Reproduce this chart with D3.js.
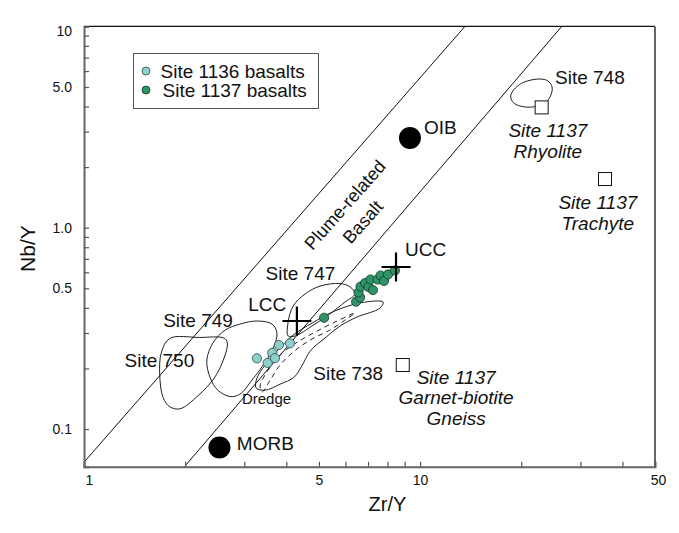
<!DOCTYPE html>
<html><head><meta charset="utf-8">
<script src="https://cdn.jsdelivr.net/npm/d3@7"></script>
<style>
body{margin:0;background:#fff}
svg{display:block;font-family:Arial,"Liberation Sans",Helvetica,sans-serif}
</style>
</head><body>
<svg id="chart" width="679" height="533"></svg>
<script>
// ---------- data ----------
const xTickValues = [1, 5, 10, 50];
const xTickLabels = ["1", "5", "10", "50"];
const xMinorTicks = [2, 3, 4, 6, 7, 8, 9, 20, 30, 40];
const yTickValues = [0.1, 0.5, 1, 5, 10];
const yTickLabels = ["0.1", "0.5", "1.0", "5.0", "10"];
const yMinorTicks = [0.2, 0.3, 0.4, 0.6, 0.7, 0.8, 0.9, 2, 3, 4, 6, 7, 8, 9];

const site1136ZrY = [3.27, 3.63, 3.52, 3.70, 3.80, 4.10];
const site1136NbY = [0.2245, 0.239, 0.213, 0.225, 0.2615, 0.2665];
const site1137ZrY = [5.18, 6.45, 6.63, 6.56, 6.65, 6.86, 7.02, 7.12, 7.24, 7.47, 7.63, 7.81, 8.03, 8.42];
const site1137NbY = [0.357, 0.429, 0.450, 0.477, 0.510, 0.531, 0.508, 0.553, 0.490, 0.553, 0.579, 0.544, 0.586, 0.613];

const mantleNames = ["OIB", "MORB"];
const mantleZrY = [9.33, 2.53];
const mantleNbY = [2.79, 0.081];

const crustNames = ["UCC", "LCC"];
const crustZrY = [8.48, 4.30];
const crustNbY = [0.638, 0.344];

const rockNames = ["Rhyolite", "Trachyte", "Garnet-biotite Gneiss"];
const rockZrY = [23.0, 35.5, 8.88];
const rockNbY = [3.96, 1.745, 0.208];

// field outlines (Zr/Y, Nb/Y)
const site750ZrY = [1.80, 2.21, 2.61, 2.67, 2.61, 2.44, 2.18, 1.93, 1.80, 1.72, 1.68, 1.70];
const site750NbY = [0.282, 0.285, 0.283, 0.268, 0.225, 0.179, 0.146, 0.126, 0.129, 0.143, 0.186, 0.241];
const site749ZrY = [3.27, 2.91, 2.63, 2.42, 2.32, 2.37, 2.50, 2.72, 2.91, 3.16, 3.46, 3.68, 3.75, 3.63];
const site749NbY = [0.344, 0.332, 0.310, 0.268, 0.220, 0.181, 0.156, 0.145, 0.149, 0.175, 0.215, 0.259, 0.300, 0.332];
const site747ZrY = [5.78, 6.19, 6.40, 5.98, 5.39, 4.77, 4.25, 4.05, 4.05, 4.19, 4.55, 5.04];
const site747NbY = [0.528, 0.508, 0.469, 0.428, 0.373, 0.325, 0.290, 0.290, 0.340, 0.408, 0.469, 0.513];
const site738ZrY = [7.76, 7.60, 6.49, 5.78, 5.25, 4.71, 4.45, 4.22, 3.83, 3.46, 3.25, 3.27, 3.46, 3.78, 4.16, 4.77, 5.58, 6.63];
const site738NbY = [0.4275, 0.399, 0.360, 0.325, 0.286, 0.244, 0.206, 0.181, 0.167, 0.156, 0.160, 0.179, 0.208, 0.247, 0.290, 0.336, 0.386, 0.423];
const site748ZrY = [22.7, 24.0, 24.7, 24.5, 23.7, 22.4, 20.5, 19.0, 18.6, 19.2, 20.4];
const site748NbY = [5.48, 5.36, 5.00, 4.56, 4.21, 4.02, 3.98, 4.16, 4.51, 4.94, 5.29];
const dredgeZrY = [3.34, 3.53, 3.83, 4.27, 4.87, 5.58, 6.40, 5.98, 5.39, 4.71, 4.19, 3.83, 3.58, 3.39];
const dredgeNbY = [0.1635, 0.196, 0.233, 0.2675, 0.303, 0.340, 0.377, 0.348, 0.310, 0.277, 0.241, 0.208, 0.175, 0.153];

// plume-related basalt boundaries
const plumeUpperZrY = [1, 13.6];
const plumeUpperNbY = [0.0684, 10];
const plumeLowerZrY = [1.99, 26.4];
const plumeLowerNbY = [0.065, 10];

// ---------- layout ----------
const svg = d3.select("#chart");
const padL = 84, padR = 655, padT = 26.4, padB = 466.7;
const x = d3.scaleLog().domain([1, 50]).range([padL, padR]);
const y = d3.scaleLog().domain([0.065, 10]).range([padB, padT]);

const zip = (a, b) => a.map((v, i) => [v, b[i]]);
const defs = svg.append("defs");
defs.append("clipPath").attr("id", "clip").append("rect")
  .attr("x", padL).attr("y", padT).attr("width", padR - padL).attr("height", padB - padT);

const plot = svg.append("g").attr("clip-path", "url(#clip)");

// fields
const shape = d3.line().x(d => x(d[0])).y(d => y(d[1])).curve(d3.curveCatmullRomClosed.alpha(0.5));
const fields = [
  [site750ZrY, site750NbY, null],
  [site749ZrY, site749NbY, null],
  [site747ZrY, site747NbY, null],
  [site738ZrY, site738NbY, null],
  [site748ZrY, site748NbY, null],
  [dredgeZrY, dredgeNbY, "5,4"]
];
fields.forEach(f => {
  plot.append("path").attr("d", shape(zip(f[0], f[1])))
    .attr("fill", "none").attr("stroke", "#222").attr("stroke-width", 1)
    .attr("stroke-dasharray", f[2]);
});

// plume lines
const straight = d3.line().x(d => x(d[0])).y(d => y(d[1]));
[[plumeUpperZrY, plumeUpperNbY], [plumeLowerZrY, plumeLowerNbY]].forEach(l => {
  plot.append("path").attr("d", straight(zip(l[0], l[1])))
    .attr("fill", "none").attr("stroke", "#111").attr("stroke-width", 1);
});

// basalt points
plot.selectAll(".s1136").data(zip(site1136ZrY, site1136NbY)).join("circle")
  .attr("cx", d => x(d[0])).attr("cy", d => y(d[1])).attr("r", 4.6)
  .attr("fill", "#8fd0cb").attr("stroke", "#2a4a48").attr("stroke-width", 0.8);
plot.selectAll(".s1137").data(zip(site1137ZrY, site1137NbY)).join("circle")
  .attr("cx", d => x(d[0])).attr("cy", d => y(d[1])).attr("r", 4.6)
  .attr("fill", "#2f9467").attr("stroke", "#143826").attr("stroke-width", 0.8);

// mantle reference (big black dots)
plot.selectAll(".mantle").data(zip(mantleZrY, mantleNbY)).join("circle")
  .attr("cx", d => x(d[0])).attr("cy", d => y(d[1])).attr("r", 11).attr("fill", "#000");

// crust crosses
zip(crustZrY, crustNbY).forEach(d => {
  const cx = x(d[0]), cy = y(d[1]);
  plot.append("line").attr("x1", cx - 14.5).attr("x2", cx + 14.5).attr("y1", cy).attr("y2", cy)
    .attr("stroke", "#000").attr("stroke-width", 2.2);
  plot.append("line").attr("x1", cx).attr("x2", cx).attr("y1", cy - 14.5).attr("y2", cy + 14.5)
    .attr("stroke", "#000").attr("stroke-width", 2.2);
});

// rock squares
plot.selectAll(".rock").data(zip(rockZrY, rockNbY)).join("rect")
  .attr("x", d => x(d[0]) - 6.5).attr("y", d => y(d[1]) - 6.5)
  .attr("width", 13).attr("height", 13)
  .attr("fill", "#fff").attr("stroke", "#111").attr("stroke-width", 1);

// ---------- frame & axes ----------
svg.append("line").attr("x1", padL).attr("x2", padR).attr("y1", padT).attr("y2", padT)
  .attr("stroke", "#111").attr("stroke-width", 1.2);
svg.append("line").attr("x1", padR).attr("x2", padR).attr("y1", padT).attr("y2", padB)
  .attr("stroke", "#666").attr("stroke-width", 2);

const xAxis = d3.axisBottom(x).tickValues(xTickValues.concat(xMinorTicks))
  .tickSize(-5).tickFormat(d => { const i = xTickValues.indexOf(d); return i >= 0 ? xTickLabels[i] : ""; });
const gx = svg.append("g").attr("transform", `translate(0,${padB})`).call(xAxis);
gx.select(".domain").attr("stroke", "#666").attr("stroke-width", 2);
gx.selectAll(".tick line").attr("stroke", "#555").attr("stroke-width", 1.2);
gx.selectAll(".tick text").attr("font-size", 14).attr("fill", "#111").attr("y", 8)
  .attr("dx", d => d === 1 ? 5 : (d === 50 ? 3 : 0))
  .attr("font-family", "Arial, 'Liberation Sans', sans-serif");

const yAxis = d3.axisLeft(y).tickValues(yTickValues.concat(yMinorTicks))
  .tickSize(-5).tickFormat(d => { const i = yTickValues.indexOf(d); return i >= 0 ? yTickLabels[i] : ""; });
const gy = svg.append("g").attr("transform", `translate(${padL},0)`).call(yAxis);
gy.select(".domain").attr("stroke", "#666").attr("stroke-width", 2);
gy.selectAll(".tick line").attr("stroke", "#555").attr("stroke-width", 1.2);
gy.selectAll(".tick text").attr("font-size", 14).attr("fill", "#111").attr("x", -12)
  .attr("dy", d => d === 10 ? "0.62em" : "0.32em")
  .attr("font-family", "Arial, 'Liberation Sans', sans-serif");

svg.append("text").attr("x", (padL + padR) / 2 + 18).attr("y", 511)
  .attr("text-anchor", "middle").attr("font-size", 20).attr("fill", "#111").text("Zr/Y");
svg.append("text").attr("transform", `translate(35,${(padT + padB) / 2 + 2}) rotate(-90)`)
  .attr("text-anchor", "middle").attr("font-size", 21).attr("fill", "#111").text("Nb/Y");

// ---------- annotations ----------
const fs = 19;
function label(zr, nb, txt, anchor, opts = {}) {
  const t = svg.append("text").attr("x", x(zr)).attr("y", y(nb))
    .attr("text-anchor", anchor).attr("dominant-baseline", "central")
    .attr("font-size", opts.size || fs).attr("fill", "#111");
  if (opts.italic) t.attr("font-style", "italic");
  const lines = Array.isArray(txt) ? txt : [txt];
  lines.forEach((s, i) => t.append("tspan").attr("x", x(zr)).attr("dy", i === 0 ? 0 : (opts.lh || 21.5)).text(s));
  return t;
}
label(25.2, 5.59, "Site 748", "start");
label(10.27, 3.16, "OIB", "start");
label(9.02, 0.784, "UCC", "start");
label(2.85, 0.0852, "MORB", "start");
label(3.08, 0.418, "LCC", "start");
label(3.47, 0.596, "Site 747", "start");
label(1.72, 0.348, "Site 749", "start");
label(1.32, 0.2203, "Site 750", "start");
label(7.76, 0.1905, "Site 738", "end");
label(2.95, 0.1421, "Dredge", "start", { size: 15 });
label(24.0, 3.06, ["Site 1137", "Rhyolite"], "middle", { italic: true });
label(33.8, 1.346, ["Site 1137", "Trachyte"], "middle", { italic: true });
label(12.8, 0.182, ["Site 1137", "Garnet-biotite", "Gneiss"], "middle", { italic: true, lh: 20.8 });

// plume-related basalt rotated text
const ang = -48.5;
[[5.98, 1.297, "Plume-related"], [6.76, 1.067, "Basalt"]].forEach(d => {
  svg.append("text").attr("transform", `translate(${x(d[0])},${y(d[1])}) rotate(${ang})`)
    .attr("text-anchor", "middle").attr("dominant-baseline", "central")
    .attr("font-size", 18).attr("fill", "#111").text(d[2]);
});

// ---------- legend ----------
const lg = svg.append("g");
lg.append("rect").attr("x", 133.5).attr("y", 53.5).attr("width", 185).attr("height", 55)
  .attr("fill", "#fff").attr("stroke", "#555").attr("stroke-width", 1);
const legendItems = [["Site 1136 basalts", "#8fd0cb", "#2a4a48"], ["Site 1137 basalts", "#2f9467", "#143826"]];
legendItems.forEach((it, i) => {
  const cy = 71 + i * 19;
  lg.append("circle").attr("cx", 146).attr("cy", cy).attr("r", 4).attr("fill", it[1])
    .attr("stroke", it[2]).attr("stroke-width", 0.8);
  lg.append("text").attr("x", 160.5 + i * 2).attr("y", cy).attr("dominant-baseline", "central")
    .attr("font-size", 19).attr("fill", "#111").text(it[0]);
});
</script>
</body></html>
